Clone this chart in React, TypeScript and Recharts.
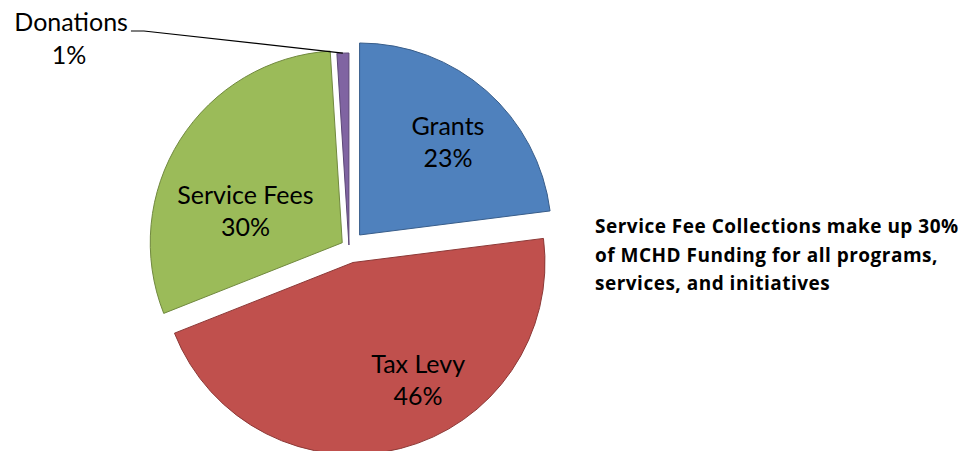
import { PieChart, Pie, Cell } from "recharts"

const categories = ["Grants", "Tax Levy", "Service Fees", "Donations"]
const shares = [23, 46, 30, 1]

const colors = ["#4F81BD", "#C0504D", "#9BBB59", "#8064A2"]
const strokes = ["#385D8A", "#8C3836", "#71893F", "#5C4776"]
// how far each slice is pulled out of the pie
const explode = [16, 16, 8, 2]
// label placement inside the slice: angle (deg) and fraction of radius
const labelSpot = [
  { a: 46.6, f: 0.67 },
  { a: -61, f: 0.7 },
  { a: 162, f: 0.53 },
  null,
]

const note = [
  "Service Fee Collections make up 30%",
  "of MCHD Funding for all programs,",
  "services, and initiatives",
]

const W = 969
const H = 451
const CX = 349
const CY = 247
const R = 192
const FONT = "Lato, 'Noto Sans', sans-serif"
const FS = 25

const data = categories.map((name, i) => ({ name, value: shares[i] }))
const total = shares.reduce((a, b) => a + b, 0)

function midAngle(i: number) {
  const before = shares.slice(0, i).reduce((a, b) => a + b, 0)
  const start = 90 - (360 * before) / total
  return start - (180 * shares[i]) / total
}

const RAD = Math.PI / 180

function makeLabel(k: number) {
  // eslint-disable-next-line @typescript-eslint/no-explicit-any
  return (p: any) => {
    if (p.index !== k) return null
    const pct = `${Math.round(p.percent * 100)}%`
    const spot = labelSpot[k]
    if (spot) {
      const x = p.cx + p.outerRadius * spot.f * Math.cos(spot.a * RAD)
      const y = p.cy - p.outerRadius * spot.f * Math.sin(spot.a * RAD)
      return (
        <text x={x} y={y} textAnchor="middle" fontFamily={FONT} fontSize={FS} fill="#000">
          <tspan x={x} dy={-7}>{p.name}</tspan>
          <tspan x={x} dy={32}>{pct}</tspan>
        </text>
      )
    }
    // small slice: outside label with leader line
    const sx = p.cx + p.outerRadius * Math.cos(p.midAngle * RAD)
    const sy = p.cy - p.outerRadius * Math.sin(p.midAngle * RAD)
    const ex = p.cx - 205
    const ey = p.cy - 214
    return (
      <g>
        <polyline
          points={`${sx},${sy} ${ex},${ey} ${ex - 13},${ey}`}
          fill="none"
          stroke="#000"
          strokeWidth={1.2}
        />
        <text x={ex - 16} y={ey} textAnchor="end" fontFamily={FONT} fontSize={FS} fill="#000">
          {p.name}
        </text>
        <text x={ex - 75} y={ey + 33} textAnchor="middle" fontFamily={FONT} fontSize={FS} fill="#000">
          {pct}
        </text>
      </g>
    )
  }
}

export default function App() {
  return (
    <div style={{ position: "absolute", left: 0, top: 0, width: W, height: H, background: "#fff" }}>
      <PieChart width={W} height={H} margin={{ top: 0, right: 0, bottom: 0, left: 0 }}>
        {categories.map((_, k) => {
          const m = midAngle(k)
          return (
            <Pie
              key={k}
              data={data}
              dataKey="value"
              nameKey="name"
              cx={CX + explode[k] * Math.cos(m * RAD)}
              cy={CY - explode[k] * Math.sin(m * RAD)}
              outerRadius={R}
              startAngle={90}
              endAngle={-270}
              isAnimationActive={false}
              labelLine={false}
              label={makeLabel(k)}
            >
              {data.map((_, i) => (
                <Cell
                  key={i}
                  fill={i === k ? colors[i] : "transparent"}
                  stroke={i === k ? strokes[i] : "none"}
                  strokeWidth={1}
                />
              ))}
            </Pie>
          )
        })}
      </PieChart>
      <div
        style={{
          position: "absolute",
          left: 595,
          top: 212,
          fontFamily: "'Open Sans', Lato, sans-serif",
          fontWeight: 700,
          fontSize: 19,
          letterSpacing: 0.5,
          lineHeight: "28.5px",
          color: "#000",
          whiteSpace: "nowrap",
        }}
      >
        {note.map((t) => (
          <div key={t}>{t}</div>
        ))}
      </div>
    </div>
  )
}
